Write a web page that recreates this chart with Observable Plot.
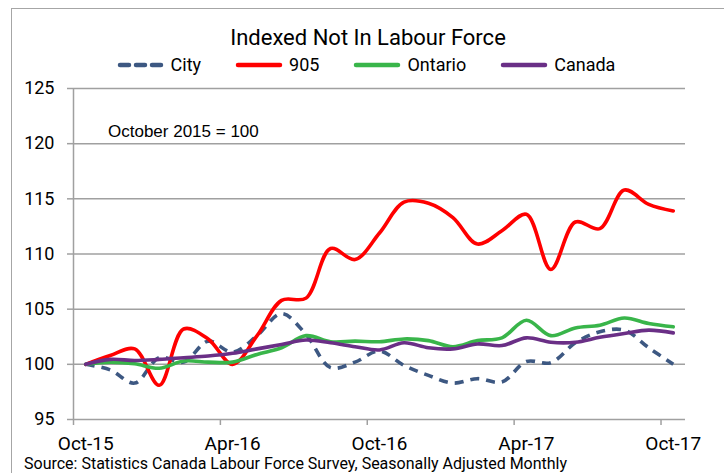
<!DOCTYPE html>
<html><head><meta charset="utf-8">
<script src="https://cdn.jsdelivr.net/npm/d3@7"></script>
<script src="https://cdn.jsdelivr.net/npm/@observablehq/plot@0.6"></script>
<style>
body{margin:0;background:#fff;overflow:hidden;}
#wrap{position:relative;width:724px;height:473px;overflow:hidden;font-family:Roboto,"Liberation Sans",sans-serif;color:#000;}
#border{position:absolute;left:11px;top:8px;width:800px;height:600px;border:1.5px solid #a6a6a6;box-sizing:border-box;}
#title{position:absolute;left:0;width:736px;top:25px;text-align:center;font-size:22px;line-height:26px;}
#legend{position:absolute;left:0;width:732px;top:54px;display:flex;justify-content:center;gap:34px;font-size:18px;line-height:22px;}
.item{display:flex;align-items:center;gap:6px;}
#chart{position:absolute;left:0;top:75px;}
#note{position:absolute;left:108px;top:122px;font-family:"Liberation Sans",Arial,sans-serif;font-size:17px;}
#source{position:absolute;left:24px;top:455px;font-size:16px;line-height:17px;white-space:nowrap;}
</style></head>
<body>
<div id="wrap">
  <div id="border"></div>
  <div id="title">Indexed Not In Labour Force</div>
  <div id="legend"></div>
  <div id="chart"></div>
  <div id="note">October 2015 = 100</div>
  <div id="source">Source: Statistics Canada Labour Force Survey, Seasonally Adjusted Monthly</div>
</div>
<script>
// Tick labels (every 6 months, Oct-15 .. Oct-17; 25 monthly points)
const tickLabels = ["Oct-15", "Apr-16", "Oct-16", "Apr-17", "Oct-17"];
const seriesNames = ["City", "905", "Ontario", "Canada"];
const seriesColors = ["#3d5882", "#ff0000", "#39b54a", "#6a2f86"];

const city    = [100, 99.5, 98.3, 100.6, 100.2, 102.1, 101.1, 102.6, 104.6, 102.7, 99.7, 100.2, 101.2, 99.9, 99.0, 98.3, 98.7, 98.4, 100.25, 100.15, 101.95, 102.95, 103.1, 101.5, 100.0];
const r905    = [100, 100.8, 101.4, 98.1, 103.2, 102.3, 100.0, 102.6, 105.8, 106.0, 110.5, 109.5, 111.9, 114.7, 114.6, 113.3, 110.9, 112.1, 113.6, 108.6, 112.9, 112.3, 115.8, 114.5, 113.9];
const ontario = [100, 100.2, 100.05, 99.65, 100.3, 100.2, 100.2, 100.9, 101.5, 102.6, 102.05, 102.1, 102.05, 102.3, 102.15, 101.6, 102.15, 102.4, 104.0, 102.6, 103.3, 103.55, 104.2, 103.7, 103.4];
const canada  = [100, 100.45, 100.35, 100.45, 100.6, 100.75, 101.0, 101.4, 101.8, 102.2, 101.95, 101.6, 101.3, 101.95, 101.5, 101.4, 101.85, 101.7, 102.4, 102.0, 102.0, 102.45, 102.8, 103.1, 102.85];

const allSeries = [city, r905, ontario, canada];
const rows = allSeries.map(vals => vals.map((v, i) => ({i, v})));

// legend
const legend = document.getElementById("legend");
seriesNames.forEach((n, k) => {
  const it = document.createElement("div");
  it.className = "item";
  const dash = k === 0 ? 'stroke-dasharray="9,7"' : '';
  it.innerHTML = `<svg width="48" height="8"><line x1="3" y1="4" x2="45" y2="4" stroke="${seriesColors[k]}" stroke-width="4.5" stroke-linecap="round" ${dash}/></svg><span>${n}</span>`;
  legend.appendChild(it);
});

const grid = "#a0a0a0";
const yTicks = [95, 100, 105, 110, 115, 120, 125];
const boundaryTicks = [-0.5, 5.5, 11.5, 17.5, 23.5];
const labelTicks = [0, 6, 12, 18, 24];

const lineMarks = rows.map((r, k) => Plot.line(r, {
  x: "i", y: "v", stroke: seriesColors[k], strokeWidth: 3.6,
  curve: "catmull-rom",
  strokeDasharray: k === 0 ? "9,7" : null,
  strokeLinecap: k === 0 ? "butt" : "round"
}));

const chart = Plot.plot({
  width: 724, height: 395,
  marginTop: 13, marginBottom: 51, marginLeft: 73, marginRight: 39,
  style: {fontFamily: "Roboto, 'Liberation Sans', sans-serif", background: "transparent", overflow: "visible"},
  x: {domain: [-0.5, 24.5], label: null},
  y: {domain: [95, 125], label: null},
  marks: [
    Plot.ruleY(yTicks, {stroke: grid, strokeWidth: 1.5}),
    Plot.ruleX([-0.5], {stroke: grid, strokeWidth: 1.5}),
    Plot.axisY({ticks: yTicks, tickSize: 6, tickPadding: 13, fontSize: 18, stroke: grid, fill: "#000", strokeWidth: 1.5}),
    Plot.axisX({ticks: boundaryTicks, tickSize: 6, tickFormat: () => "", stroke: grid, strokeWidth: 1.5}),
    Plot.axisX({ticks: labelTicks, tickSize: 0, tickPadding: 17, fontSize: 19, fill: "#000", tickFormat: d => tickLabels[d / 6]}),
    ...lineMarks
  ]
});
document.getElementById("chart").appendChild(chart);
</script>
</body></html>
